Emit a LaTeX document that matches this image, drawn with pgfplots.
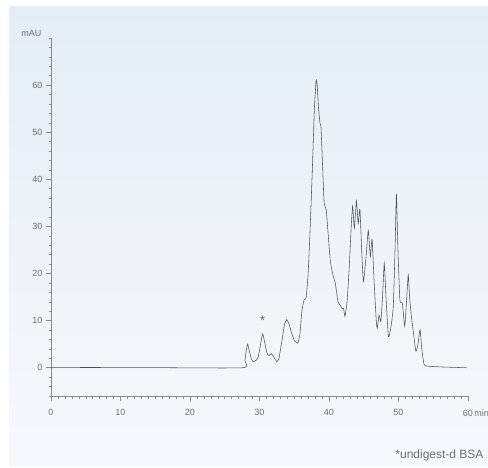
\documentclass[border=0pt]{standalone}
\usepackage{pgfplots}
\pgfplotsset{compat=1.18}
\usepackage{fontspec}
\setmainfont{Liberation Sans}
\definecolor{txtgray}{HTML}{6E6E6E}
\definecolor{axgray}{HTML}{8A8A8A}
\definecolor{trace}{HTML}{505050}
\definecolor{bgtop}{HTML}{E4EDF6}
\definecolor{bgbot}{HTML}{F6F9FC}
\begin{document}
\begin{tikzpicture}[x=1pt,y=1pt]
\useasboundingbox (0,0) rectangle (488,467);
\clip (0,0) rectangle (488,467);
\fill[white] (0,0) rectangle (488,467);
\shade[top color=bgtop, bottom color=bgbot] (9,1) rectangle (488,460);
\begin{axis}[
  at={(51pt,71pt)}, anchor=south west,
  scale only axis, width=417pt, height=358pt,
  xmin=0, xmax=60, ymin=-6, ymax=70,
  axis lines=left, axis line style={-, axgray, line width=0.6pt},
  xtick={0,10,...,60},
  xticklabels={0,10,20,30,40,50,60\rlap{\kern1.5pt min}},
  minor xtick={1,2,...,59},
  ytick={0,10,...,60},
  minor ytick={-6,-4,...,70},
  tick align=outside,
  major tick length=5pt, minor tick length=2.5pt,
  every tick/.style={axgray, line width=0.5pt},
  tick label style={font=\fontsize{9}{10}\selectfont, text=txtgray},
  xticklabel style={yshift=-5pt},
  /pgf/number format/assume math mode=true,
  clip=false,
]
\addplot[trace, line width=0.55pt, smooth, tension=0.3] coordinates {
(0,0) (5,0.05) (15,0.02) (27.6,0) (27.9,1.5) (28.1,3.8) (28.3,5.0) (28.5,3.8)
(28.8,2.0) (29.1,1.3) (29.5,1.6) (29.8,2.2) (30.1,4.5) (30.45,7.2) (30.8,5.0)
(31.1,3.0) (31.4,2.6) (31.7,3.0) (32.0,2.4) (32.5,1.3) (32.8,2.0) (33.2,5.5)
(33.6,9.2) (33.9,10.2) (34.2,9.5) (34.6,7.5) (35.0,5.8) (35.5,5.2) (35.8,7.0)
(36.1,12.0) (36.4,14.4) (36.7,14.8) (37.0,20) (37.3,30) (37.6,42) (37.9,55)
(38.15,61) (38.3,60) (38.5,55) (38.7,52) (38.85,51) (39.1,42) (39.3,35)
(39.6,33.5) (39.9,28) (40.2,22.5) (40.6,19.5) (40.9,18) (41.3,14) (41.6,13.3)
(41.9,12.5) (42.1,12.6) (42.3,10.9) (42.6,14) (42.9,21) (43.2,30) (43.4,34.3)
(43.65,29.6) (43.95,35.4) (44.2,30.6) (44.45,33.6) (44.7,25) (44.95,18.3)
(45.3,23) (45.65,29.1) (45.95,23.6) (46.2,27.3) (46.5,18) (46.8,10) (46.95,8.4)
(47.2,11.2) (47.45,9.8) (47.7,15) (47.95,22.2) (48.2,15) (48.55,6.6) (48.9,8.5)
(49.25,13) (49.5,25) (49.7,36.9) (49.9,26) (50.2,14.4) (50.55,13.7) (50.9,8.8)
(51.15,14) (51.4,19.7) (51.6,15) (51.8,11.6) (52.1,8) (52.5,3.5) (52.8,5)
(53.1,8.1) (53.35,4) (53.7,0.6) (54.5,0.3) (56.5,0.15) (59.8,0)
};
\node[text=txtgray, font=\fontsize{14}{15}\selectfont] at (axis cs:30.45,9.9) {*};
\node[text=txtgray, font=\fontsize{9}{10}\selectfont, anchor=east] at ([xshift=-6pt,yshift=5pt]axis cs:0,70) {mAU};
\end{axis}
\node[text=txtgray, font=\fontsize{12}{13}\selectfont, anchor=east] at (487,12) {*undigest-d BSA};
\end{tikzpicture}
\end{document}
